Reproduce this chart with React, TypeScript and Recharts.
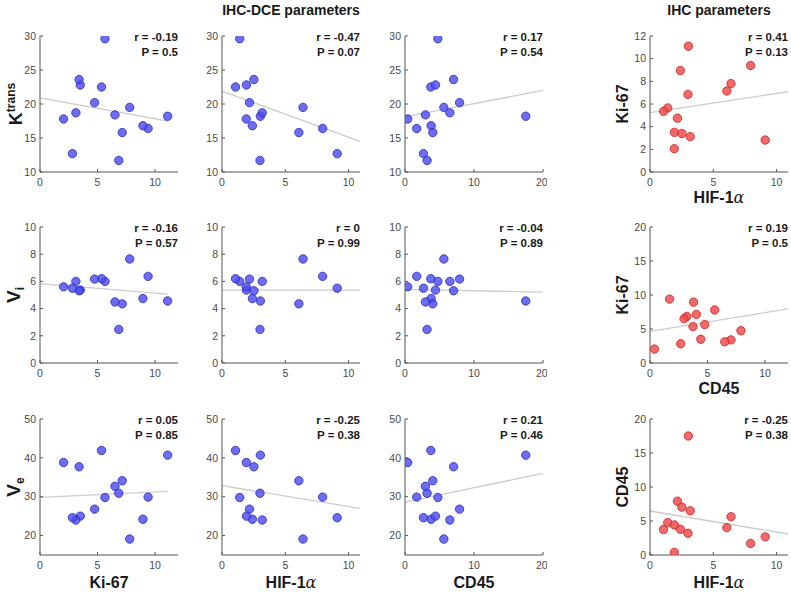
import React from 'react';
import { ScatterChart, Scatter, XAxis, YAxis, ReferenceLine } from 'recharts';

// --- values per patient (patient 7 has no HIF-1α value) ---
const ki67 = [11.1, 9.4, 8.95, 7.8, 7.15, 6.85, 6.52, 5.65, 5.35, 4.75, 3.5, 3.4, 3.12, 2.05, 2.82];
const hif1a = [3.03, 7.95, 2.4, 6.4, 6.07, 3.0, null, 1.4, 1.07, 2.17, 1.93, 2.52, 3.18, 1.92, 9.1];
const cd45 = [17.5, 1.7, 3.79, 5.63, 4.03, 3.2, 2.96, 4.76, 3.74, 7.91, 4.42, 7.04, 6.5, 0.39, 2.67];
const ktrans = [18.2, 16.4, 16.8, 19.5, 15.8, 11.7, 18.4, 29.6, 22.5, 20.2, 22.8, 23.6, 18.7, 17.8, 12.7];
const vi = [4.56, 6.37, 4.74, 7.65, 4.35, 2.47, 4.49, 6.0, 6.2, 6.17, 5.36, 5.31, 6.0, 5.6, 5.5];
const ve = [40.7, 29.9, 24.2, 19.1, 34.1, 30.9, 32.7, 29.8, 41.9, 26.8, 25.0, 37.7, 24.0, 38.8, 24.6];

// fitted lines as drawn in the figure: [x0, y0, x1, y1]
const fitKiKtrans = [0, 20.9, 11.1, 17.5];
const fitHifKtrans = [0, 21.9, 10.9, 14.5];
const fitCdKtrans = [0, 18.1, 20, 22.0];
const fitHifKi = [0, 5.23, 10.9, 7.08];
const fitKiVi = [0, 5.83, 11.1, 5.06];
const fitHifVi = [0, 5.36, 10.9, 5.36];
const fitCdVi = [0, 5.41, 20, 5.21];
const fitCdKi = [0, 4.64, 12, 7.95];
const fitKiVe = [0, 29.85, 11.1, 31.4];
const fitHifVe = [0, 32.85, 10.9, 27.0];
const fitCdVe = [0, 28.6, 20, 36.0];
const fitHifCd = [0, 6.47, 10.9, 3.09];

// correlation labels, row by row
const rValues = ['-0.19', '-0.47', '0.17', '0.41', '-0.16', '0', '-0.04', '0.19', '0.05', '-0.25', '0.21', '-0.25'];
const pValues = ['0.5', '0.07', '0.54', '0.13', '0.57', '0.99', '0.89', '0.5', '0.85', '0.38', '0.46', '0.38'];

// tick labels
const ticksKi = [0, 5, 10];
const ticksCd = [0, 10, 20];
const ticksKtrans = [10, 15, 20, 25, 30];
const ticksKiY = [0, 2, 4, 6, 8, 10, 12];
const ticksVi = [0, 2, 4, 6, 8, 10];
const ticksVe = [20, 30, 40, 50];
const ticks20 = [0, 5, 10, 15, 20];

const FONT = '"Liberation Sans", Arial, Helvetica, sans-serif';
const AXIS = '#555555';
const W = 138;
const H = 136;
const COLS = [40, 222, 405, 650];
const ROWS = [36, 227, 419];

const BLUE = { fill: '#4d4df2', edge: '#2a2ab8' };
const RED = { fill: '#f04848', edge: '#c42424' };

type PanelDef = {
  xs: (number | null)[];
  ys: number[];
  xDomain: [number, number];
  yDomain: [number, number];
  xTicks: number[];
  yTicks: number[];
  fit: number[];
  color: { fill: string; edge: string };
};

const panels: PanelDef[] = [
  { xs: ki67, ys: ktrans, xDomain: [0, 12], yDomain: [10, 30], xTicks: ticksKi, yTicks: ticksKtrans, fit: fitKiKtrans, color: BLUE },
  { xs: hif1a, ys: ktrans, xDomain: [0, 10.9], yDomain: [10, 30], xTicks: ticksKi, yTicks: ticksKtrans, fit: fitHifKtrans, color: BLUE },
  { xs: cd45, ys: ktrans, xDomain: [0, 20], yDomain: [10, 30], xTicks: ticksCd, yTicks: ticksKtrans, fit: fitCdKtrans, color: BLUE },
  { xs: hif1a, ys: ki67, xDomain: [0, 10.9], yDomain: [0, 12], xTicks: ticksKi, yTicks: ticksKiY, fit: fitHifKi, color: RED },
  { xs: ki67, ys: vi, xDomain: [0, 12], yDomain: [0, 10], xTicks: ticksKi, yTicks: ticksVi, fit: fitKiVi, color: BLUE },
  { xs: hif1a, ys: vi, xDomain: [0, 10.9], yDomain: [0, 10], xTicks: ticksKi, yTicks: ticksVi, fit: fitHifVi, color: BLUE },
  { xs: cd45, ys: vi, xDomain: [0, 20], yDomain: [0, 10], xTicks: ticksCd, yTicks: ticksVi, fit: fitCdVi, color: BLUE },
  { xs: cd45, ys: ki67, xDomain: [0, 12], yDomain: [0, 20], xTicks: ticksKi, yTicks: ticks20, fit: fitCdKi, color: RED },
  { xs: ki67, ys: ve, xDomain: [0, 12], yDomain: [15, 50], xTicks: ticksKi, yTicks: ticksVe, fit: fitKiVe, color: BLUE },
  { xs: hif1a, ys: ve, xDomain: [0, 10.9], yDomain: [15, 50], xTicks: ticksKi, yTicks: ticksVe, fit: fitHifVe, color: BLUE },
  { xs: cd45, ys: ve, xDomain: [0, 20], yDomain: [15, 50], xTicks: ticksCd, yTicks: ticksVe, fit: fitCdVe, color: BLUE },
  { xs: hif1a, ys: cd45, xDomain: [0, 10.9], yDomain: [0, 20], xTicks: ticksKi, yTicks: ticks20, fit: fitHifCd, color: RED },
];

const tickStyle = { fill: '#4a4a4a', fontSize: 10.5, fontFamily: FONT };

function Panel({ def, idx }: { def: PanelDef; idx: number }) {
  const left = COLS[idx % 4];
  const top = ROWS[Math.floor(idx / 4)];
  // points outside the axis limits are not shown (as in the figure)
  const data = def.xs
    .map((x, i) => ({ x, y: def.ys[i] }))
    .filter((d) => d.x != null && d.x <= def.xDomain[1] && d.y <= def.yDomain[1]);
  const { fill, edge } = def.color;
  const dot = (props: any) => (
    <circle cx={props.cx} cy={props.cy} r={4.2} fill={fill} fillOpacity={0.82} stroke={edge} strokeWidth={0.8} />
  );
  return (
    <>
      <div style={{ position: 'absolute', left: left - 40, top: top - 10 }}>
        <ScatterChart width={W + 44} height={H + 35} margin={{ top: 10, right: 4, bottom: 0, left: 0 }}>
          <XAxis
            type="number"
            dataKey="x"
            domain={def.xDomain}
            ticks={def.xTicks}
            allowDataOverflow
            height={25}
            stroke={AXIS}
            tickSize={-3}
            tickMargin={10}
            tick={tickStyle}
          />
          <YAxis
            type="number"
            dataKey="y"
            domain={def.yDomain}
            ticks={def.yTicks}
            allowDataOverflow
            width={40}
            stroke={AXIS}
            tickSize={-3}
            tickMargin={7}
            tick={tickStyle}
          />
          <ReferenceLine
            segment={[{ x: def.fit[0], y: def.fit[1] }, { x: def.fit[2], y: def.fit[3] }]}
            stroke="#cccccc"
            strokeWidth={1.3}
            ifOverflow="visible"
          />
          <Scatter data={data} shape={dot} isAnimationActive={false} />
        </ScatterChart>
      </div>
      <div
        style={{
          position: 'absolute',
          left: left + W - 120,
          top: top - 6,
          width: 120,
          textAlign: 'right',
          fontFamily: FONT,
          fontWeight: 'bold',
          fontSize: 11.5,
          lineHeight: '14.5px',
          color: '#1a1a1a',
        }}
      >
        <div>{`r = ${rValues[idx]}`}</div>
        <div>{`P = ${pValues[idx]}`}</div>
      </div>
    </>
  );
}

const alpha = <span style={{ fontFamily: '"DejaVu Serif", serif', fontStyle: 'italic', fontWeight: 'normal' }}>α</span>;

function Label({ x, y, rotate, size = 16, children }: { x: number; y: number; rotate?: boolean; size?: number; children: React.ReactNode }) {
  return (
    <div
      style={{
        position: 'absolute',
        left: x,
        top: y,
        transform: `translate(-50%, -50%)${rotate ? ' rotate(-90deg)' : ''}`,
        whiteSpace: 'nowrap',
        fontFamily: FONT,
        fontWeight: 'bold',
        fontSize: size,
        lineHeight: 1,
        color: '#1a1a1a',
      }}
    >
      {children}
    </div>
  );
}

export default function App() {
  const cx = COLS.map((c) => c + W / 2);
  const cy = ROWS.map((r) => r + H / 2);
  return (
    <div style={{ position: 'absolute', left: 0, top: 0, width: 791, height: 594, background: '#fff', overflow: 'hidden' }}>
      {panels.map((p, i) => (
        <Panel key={i} def={p} idx={i} />
      ))}

      <Label x={cx[1]} y={10} size={14}>IHC-DCE parameters</Label>
      <Label x={cx[3]} y={10} size={14}>IHC parameters</Label>

      <Label x={15} y={cy[0]} rotate size={18}>
        K<sup style={{ fontSize: 12, verticalAlign: '0.55em' }}>trans</sup>
      </Label>
      <Label x={15} y={cy[1]} rotate size={19}>
        V<sub style={{ fontSize: 12, verticalAlign: '-0.3em' }}>i</sub>
      </Label>
      <Label x={15} y={cy[2]} rotate size={19}>
        V<sub style={{ fontSize: 12, verticalAlign: '-0.3em' }}>e</sub>
      </Label>

      <Label x={623} y={cy[0]} rotate>Ki-67</Label>
      <Label x={623} y={cy[1]} rotate>Ki-67</Label>
      <Label x={623} y={cy[2]} rotate>CD45</Label>

      <Label x={cx[3]} y={198}>HIF-1{alpha}</Label>
      <Label x={cx[3]} y={389}>CD45</Label>

      <Label x={cx[0]} y={583}>Ki-67</Label>
      <Label x={cx[1]} y={583}>HIF-1{alpha}</Label>
      <Label x={cx[2]} y={583}>CD45</Label>
      <Label x={cx[3]} y={583}>HIF-1{alpha}</Label>
    </div>
  );
}
